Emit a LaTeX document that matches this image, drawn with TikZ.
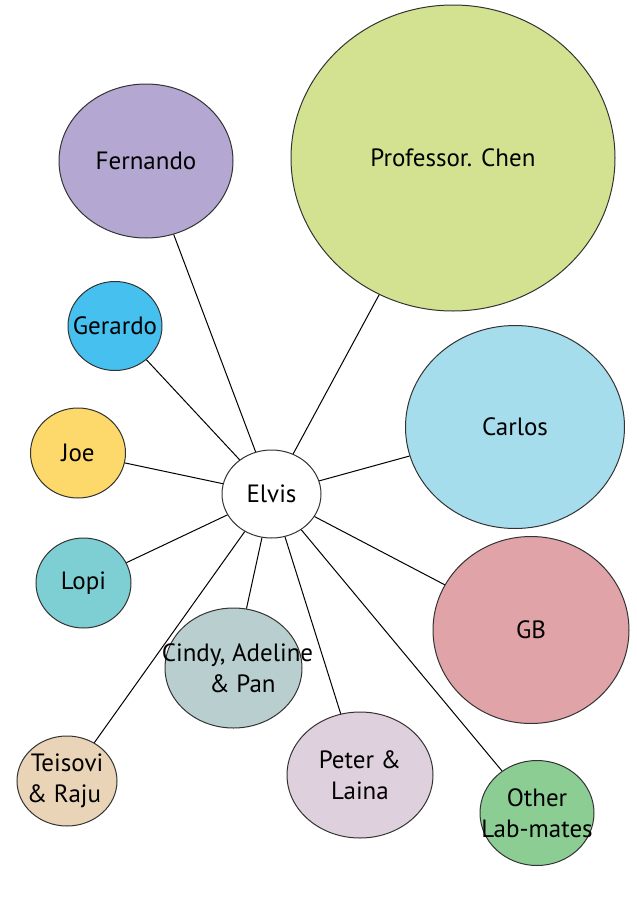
\documentclass[tikz,border=0pt]{standalone}
\usepackage{fontspec}
\setmainfont{PT Sans}
\usetikzlibrary{shapes.geometric}
\definecolor{fernc}{RGB}{180,168,210}
\definecolor{chenc}{RGB}{210,226,144}
\definecolor{gerc}{RGB}{70,192,239}
\definecolor{carlc}{RGB}{166,221,236}
\definecolor{joec}{RGB}{253,216,106}
\definecolor{lopic}{RGB}{126,207,212}
\definecolor{gbc}{RGB}{224,163,167}
\definecolor{cindc}{RGB}{184,206,207}
\definecolor{teic}{RGB}{233,212,183}
\definecolor{petc}{RGB}{222,208,220}
\definecolor{othc}{RGB}{140,205,148}
\newcommand{\nm}[1]{\makebox[0pt]{#1}}
\tikzset{person/.style={ellipse,draw=black!80,line width=1pt,inner sep=0pt,align=center,
  font=\fontsize{25}{31}\selectfont}}

\begin{document}
\begin{tikzpicture}[x=1pt,y=-1pt]
        \useasboundingbox (0,0) rectangle (637,900);
        \node [person,fill=white,minimum width=99pt,minimum height=88pt] (elvis) at (271.5,494) {\nm{Elvis}};
        \node [person,fill=fernc,minimum width=174pt,minimum height=154pt] (fern) at (146,161) {\nm{Fernando}};
        \node [person,fill=chenc,minimum width=324pt,minimum height=306pt] (chen) at (453,158) {\nm{Professor. Chen}};
        \node [person,fill=gerc,minimum width=94pt,minimum height=89pt] (ger) at (115,326) {\nm{Gerardo}};
        \node [person,fill=carlc,minimum width=219pt,minimum height=203pt] (carl) at (515,427) {\nm{Carlos}};
        \node [person,fill=joec,minimum width=95pt,minimum height=90pt] (joe) at (78,453) {\nm{Joe}};
        \node [person,fill=lopic,minimum width=95pt,minimum height=90pt] (lopi) at (83.5,583) {\nm{Lopi}};
        \node [person,fill=gbc,minimum width=196pt,minimum height=187pt] (gb) at (531,630) {\nm{GB}};
        \node [person,fill=cindc,minimum width=137pt,minimum height=120pt] (cind) at (233.5,668) {\nm{\hspace{8pt}Cindy, Adeline}\\\nm{\hspace{18pt}\& Pan}};
        \node [person,fill=teic,minimum width=100pt,minimum height=90pt] (tei) at (67,781) {\nm{Teisovi}\\\nm{\hspace{-6pt}\& Raju}};
        \node [person,fill=petc,minimum width=146pt,minimum height=126pt] (pet) at (360,775) {\nm{Peter \&}\\\nm{Laina}};
        \node [person,fill=othc,minimum width=114pt,minimum height=105pt] (oth) at (537,813) {\nm{Other}\\\nm{Lab-mates}};
        \foreach \friend in {fern,chen,ger,carl,joe,lopi,gb,cind,tei,pet,oth}
          \draw[line width=1pt] (elvis) -- (\friend);
      \end{tikzpicture}
\end{document}
